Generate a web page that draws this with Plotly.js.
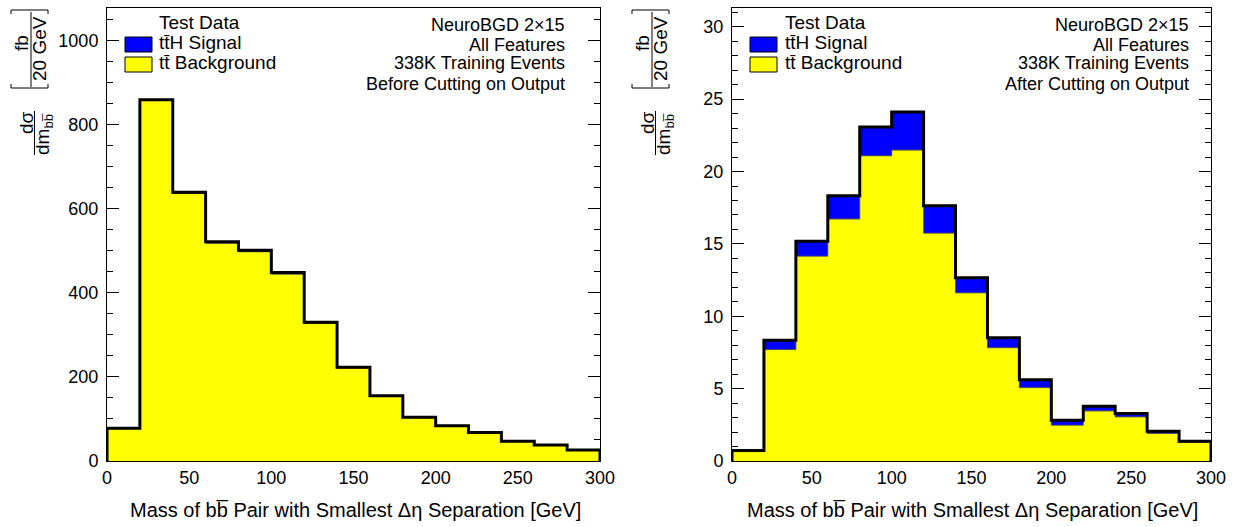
<!DOCTYPE html>
<html>
<head>
<meta charset="utf-8">
<script src="https://cdn.plot.ly/plotly-3.0.1.min.js"></script>
<style>html,body{margin:0;padding:0;background:#fff;}#chart{width:1239px;height:527px;}</style>
</head>
<body>
<div id="chart"></div>
<script>
// ---- data ----
const binEdges = [0,20,40,60,80,100,120,140,160,180,200,220,240,260,280,300];
const xTicks = [0,50,100,150,200,250,300];

// Left panel: before cutting on output
const beforeBackground = [77.5,857,636,517.5,497.5,444,327,221,153.5,103,83.3,67.4,46.6,37.7,25.8];
const beforeSignal     = [0.5,2,3,3.5,3.5,4,3,2,1.5,1,0.7,0.6,0.4,0.3,0.2];

// Right panel: after cutting on output
const afterBackground = [0.65,7.7,14.15,16.72,21.09,21.48,15.74,11.62,7.83,5.07,2.47,3.46,3.05,1.9,1.3];
const afterSignal     = [0.07,0.65,1.04,1.61,1.98,2.64,1.9,1.04,0.69,0.55,0.35,0.32,0.23,0.16,0.07];

const legendLabels = ["Test Data", "tt\u0304H Signal", "tt\u0304 Background"];
const infoLeft  = ["NeuroBGD 2\u00d715","All Features","338K Training Events","Before Cutting on Output"];
const infoRight = ["NeuroBGD 2\u00d715","All Features","338K Training Events","After Cutting on Output"];
const xTitle = "Mass of bb\u0305 Pair with Smallest \u0394\u03b7 Separation [GeV]";

// ---- helpers ----
const W = 1239, H = 527;
const FONT = "Liberation Sans, Arial, Helvetica, sans-serif";
const px = x => x / W;
const py = y => 1 - y / H;
const centers = binEdges.slice(0, -1).map((e, i) => (e + binEdges[i + 1]) / 2);
const widths  = binEdges.slice(0, -1).map((e, i) => binEdges[i + 1] - e);

function stepOutline(vals) {
  const xs = [binEdges[0]], ys = [0];
  vals.forEach((t, i) => {
    xs.push(binEdges[i], binEdges[i + 1]);
    ys.push(t, t);
  });
  xs.push(binEdges[binEdges.length - 1]); ys.push(0);
  return {x: xs, y: ys};
}

function panelTraces(bg, sig, xa, ya) {
  const tot = bg.map((b, i) => b + sig[i]);
  const o = stepOutline(tot);
  const ob = stepOutline(bg);
  return [
    {type: 'bar', x: centers, y: bg, width: widths, xaxis: xa, yaxis: ya,
     marker: {color: '#ffff00', line: {width: 0}}, showlegend: false, hoverinfo: 'skip'},
    {type: 'bar', x: centers, y: sig, width: widths, xaxis: xa, yaxis: ya,
     marker: {color: '#0000ff', line: {width: 0}}, showlegend: false, hoverinfo: 'skip'},
    {type: 'scatter', mode: 'lines', x: ob.x, y: ob.y, xaxis: xa, yaxis: ya,
     line: {color: '#555555', width: 1}, showlegend: false, hoverinfo: 'skip'},
    {type: 'scatter', mode: 'lines', x: o.x, y: o.y, xaxis: xa, yaxis: ya,
     line: {color: '#000000', width: 3}, showlegend: false, hoverinfo: 'skip'}
  ];
}

const data = [
  ...panelTraces(beforeBackground, beforeSignal, 'x', 'y'),
  ...panelTraces(afterBackground, afterSignal, 'x2', 'y2')
];

const tickFont = {family: FONT, size: 18, color: '#000'};
function xAxis(dom, anchor) {
  return {domain: dom, anchor: anchor, range: [0, 300], tickvals: xTicks, ticks: '',
    showline: true, mirror: true, linecolor: '#000', linewidth: 1, showgrid: false, zeroline: false,
    tickfont: tickFont, fixedrange: true};
}
function yAxis(dom, anchor, rng, dt, mdt) {
  return {domain: dom, anchor: anchor, range: rng, dtick: dt, tick0: 0, ticks: 'inside', ticklen: 12,
    tickcolor: '#000', tickwidth: 1, showline: true, mirror: 'ticks', linecolor: '#000', linewidth: 1,
    showgrid: false, zeroline: false, tickfont: tickFont, ticklabelstandoff: 4, layer: 'below traces',
    minor: {ticks: 'inside', ticklen: 6, dtick: mdt, tick0: 0, tickcolor: '#000', tickwidth: 1, showgrid: false},
    fixedrange: true};
}

const yDom = [py(461), py(8)];
const annotations = [];
const shapes = [];

function addPanelDecor(off, legX, boxX, infoX, info, titleCx) {
  // legend
  const legY = [22, 43, 62];
  legendLabels.forEach((t, i) => annotations.push({xref: 'paper', yref: 'paper', x: px(legX), y: py(legY[i]),
    xanchor: 'left', yanchor: 'middle', text: t, showarrow: false, font: {family: FONT, size: 19, color: '#000'}}));
  shapes.push({type: 'rect', xref: 'paper', yref: 'paper', x0: px(boxX), x1: px(boxX + 27), y0: py(37), y1: py(52),
    fillcolor: '#0000ff', line: {color: '#000', width: 1}});
  shapes.push({type: 'rect', xref: 'paper', yref: 'paper', x0: px(boxX), x1: px(boxX + 27), y0: py(57), y1: py(72),
    fillcolor: '#ffff00', line: {color: '#000', width: 1}});
  // info text
  const infoY = [25, 45.5, 63.5, 84];
  info.forEach((t, i) => annotations.push({xref: 'paper', yref: 'paper', x: px(infoX), y: py(infoY[i]),
    xanchor: 'right', yanchor: 'middle', text: t, showarrow: false, font: {family: FONT, size: 18, color: '#000'}}));
  // x title
  annotations.push({xref: 'paper', yref: 'paper', x: px(titleCx), y: py(510), xanchor: 'center', yanchor: 'middle',
    text: xTitle, showarrow: false, font: {family: FONT, size: 20, color: '#000'}});
  // y title: d sigma / dm_bb  [fb / 20 GeV]
  const f = {family: FONT, size: 19, color: '#000'};
  annotations.push({xref: 'paper', yref: 'paper', x: px(off + 26), y: py(123), textangle: -90, xanchor: 'center', yanchor: 'middle',
    text: 'd\u03c3', showarrow: false, font: f});
  annotations.push({xref: 'paper', yref: 'paper', x: px(off + 44), y: py(134), textangle: -90, xanchor: 'center', yanchor: 'middle',
    text: 'dm<sub>bb\u0305</sub>', showarrow: false, font: f});
  shapes.push({type: 'line', xref: 'paper', yref: 'paper', x0: px(off + 34.5), x1: px(off + 34.5), y0: py(111), y1: py(155),
    line: {color: '#000', width: 1}});
  annotations.push({xref: 'paper', yref: 'paper', x: px(off + 22), y: py(43), textangle: -90, xanchor: 'center', yanchor: 'middle',
    text: 'fb', showarrow: false, font: f});
  annotations.push({xref: 'paper', yref: 'paper', x: px(off + 39), y: py(49), textangle: -90, xanchor: 'center', yanchor: 'middle',
    text: '20 GeV', showarrow: false, font: f});
  shapes.push({type: 'line', xref: 'paper', yref: 'paper', x0: px(off + 31), x1: px(off + 31), y0: py(12), y1: py(87),
    line: {color: '#000', width: 1}});
  // brackets
  const bx0 = off + 11, bx1 = off + 48;
  shapes.push({type: 'path', xref: 'paper', yref: 'paper',
    path: `M ${px(bx0)} ${py(84)} L ${px(bx0)} ${py(88)} L ${px(bx1)} ${py(88)} L ${px(bx1)} ${py(84)}`,
    line: {color: '#000', width: 1}});
  shapes.push({type: 'path', xref: 'paper', yref: 'paper',
    path: `M ${px(bx0)} ${py(14)} L ${px(bx0)} ${py(10)} L ${px(bx1)} ${py(10)} L ${px(bx1)} ${py(14)}`,
    line: {color: '#000', width: 1}});
}

addPanelDecor(0, 157, 125, 567, infoLeft, 355);
addPanelDecor(621, 783, 750, 1191, infoRight, 972);

const layout = {
  width: W, height: H,
  margin: {l: 0, r: 0, t: 0, b: 0, pad: 0},
  paper_bgcolor: '#fff', plot_bgcolor: '#fff',
  barmode: 'stack', bargap: 0,
  showlegend: false,
  font: {family: FONT, color: '#000'},
  xaxis: xAxis([px(107), px(600)], 'y'),
  yaxis: yAxis(yDom, 'x', [0, 1077], 200, 50),
  xaxis2: xAxis([px(732), px(1211)], 'y2'),
  yaxis2: yAxis(yDom, 'x2', [0, 31.3], 5, 1),
  annotations: annotations,
  shapes: shapes
};

Plotly.newPlot('chart', data, layout, {displayModeBar: false, staticPlot: true});
</script>
</body>
</html>
